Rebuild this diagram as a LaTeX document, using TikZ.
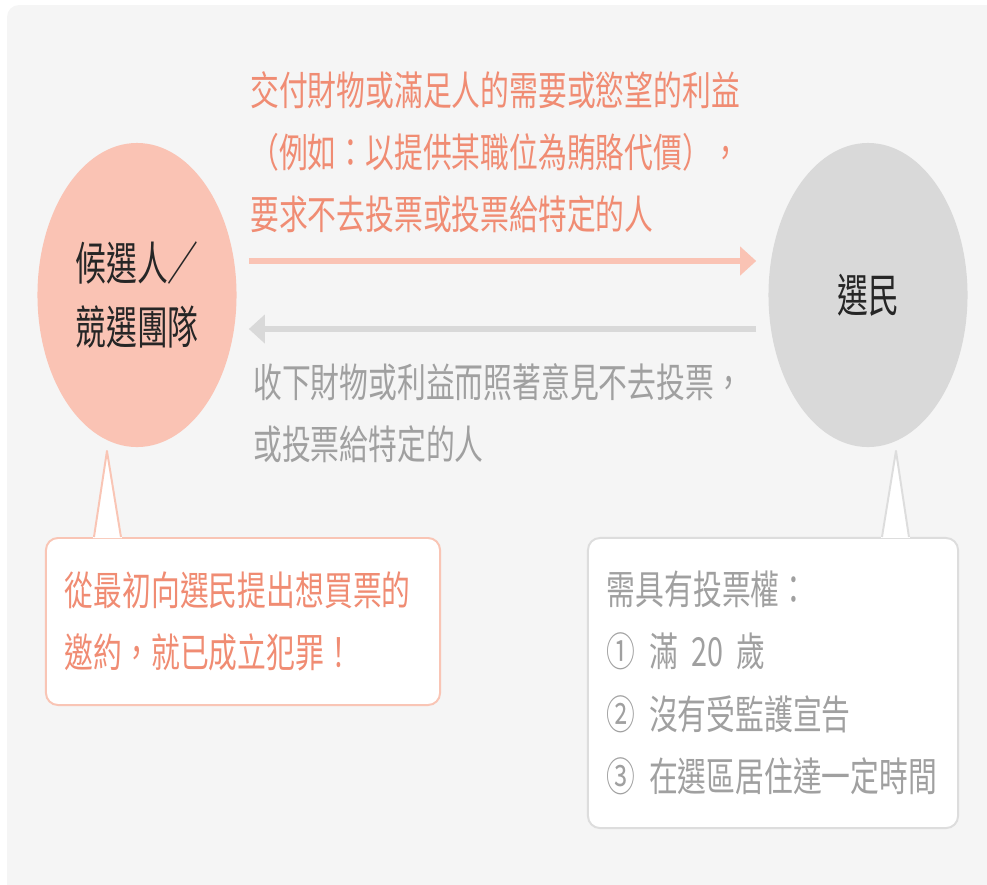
\documentclass[tikz,border=0pt]{standalone}
\usepackage{fontspec}
\newfontfamily\cjk[FakeStretch=0.72,WordSpace=0.3]{Noto Sans CJK TC}
\newfontfamily\cjkname[FakeStretch=0.67]{Noto Sans CJK TC}
\usetikzlibrary{arrows.meta,positioning,shapes.geometric,calc}
\definecolor{panelgray}{RGB}{245,245,245}
\definecolor{salmonfill}{RGB}{250,195,180}
\definecolor{salmonline}{RGB}{249,197,181}
\definecolor{salmontext}{RGB}{240,140,115}
\definecolor{voterfill}{RGB}{217,217,217}
\definecolor{boxline}{RGB}{221,221,221}
\definecolor{greytext}{RGB}{160,160,160}
\definecolor{darktext}{RGB}{38,38,38}
\tikzset{
  party/.style     = {ellipse,inner sep=0pt,minimum width=4.975cm,minimum height=7.6cm,
                      align=center,text=darktext,font=\cjkname\fontsize{32.7}{45.5}\selectfont},
  msg/.style       = {anchor=west,inner sep=0pt,align=left,
                      font=\cjk\fontsize{28.45}{44}\selectfont},
  note/.style      = {draw,rounded corners=0.3cm,fill=white,line width=1.4pt,align=left,
                      font=\cjk\fontsize{28.45}{44.4}\selectfont},
  givearrow/.style = {-{Triangle[length=0.4cm,width=0.7cm]},line width=4.3pt,color=salmonfill},
  takearrow/.style = {-{Triangle[length=0.4cm,width=0.7cm]},line width=4.3pt,color=voterfill},
  tail/.style      = {line width=1.4pt,line join=round},
}
\begin{document}
\begin{tikzpicture}[x=0.025cm,y=-0.025cm]
  \useasboundingbox (0,0) rectangle (987,884);
  \fill[panelgray,rounded corners=0.3cm] (7,5) rectangle (1010,910);

  % the two parties
  \node[party,fill=salmonfill] (cand) at (137,295) {候選人／\\競選團隊};
  \node[party,fill=voterfill] (voter) at (868,295) {選民};

  \draw[givearrow] ([shift={(12,-34)}]cand.east) -- ([shift={(-12,-34)}]voter.west);
  \draw[takearrow] ([shift={(-12,34)}]voter.west) -- ([shift={(12,34)}]cand.east);

  \node[msg,text=salmontext] (offer) at (250,152.5)
       {交付財物或滿足人的需要或慾望的利益\\（例如：以提供某職位為賄賂代價），\\要求不去投票或投票給特定的人};
  \node[msg,text=greytext] (accept) at (253,413)
       {收下財物或利益而照著意見不去投票，\\或投票給特定的人};

  % callouts
  \node[note,draw=salmonline,text=salmontext,text width=8.9cm,inner xsep=0.475cm,
        minimum height=4.175cm] (crime) at (243,621.5)
       {從最初向選民提出想買票的\\邀約，就已成立犯罪！};
  \node[note,draw=boxline,text=greytext,text width=8.3cm,inner xsep=0.475cm,
        minimum height=7.25cm] (rights) at (773,683)
       {需具有投票權：\\① 滿 20 歲\\② 沒有受監護宣告\\③ 在選區居住達一定時間};

  \fill[white] ($(crime.north west)+(48,1)$) -- ($(crime.north west)+(62,-86)$)
        -- ($(crime.north west)+(77,1)$) -- cycle;
  \draw[tail,salmonline] ($(crime.north west)+(49,0)$) -- ($(crime.north west)+(62,-86)$)
        -- ($(crime.north west)+(76,0)$);
  \fill[white] ($(rights.north west)+(294,1)$) -- ($(rights.north west)+(309,-86)$)
        -- ($(rights.north west)+(323,1)$) -- cycle;
  \draw[tail,boxline] ($(rights.north west)+(295,0)$) -- ($(rights.north west)+(309,-86)$)
        -- ($(rights.north west)+(322,0)$);
\end{tikzpicture}
\end{document}
